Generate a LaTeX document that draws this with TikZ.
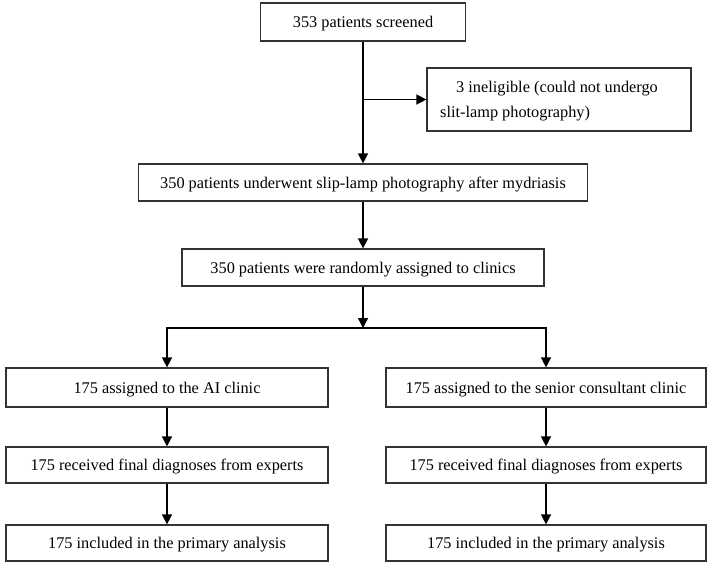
\documentclass[tikz,border=0pt]{standalone}
\usepackage{fontspec}
\setmainfont{Liberation Serif}
\usepackage{tikz}
\usetikzlibrary{positioning,arrows.meta}

\begin{document}
\begin{tikzpicture}[x=1pt,y=-1pt,
  box/.style={draw=black!80,line width=1.2pt,inner sep=0pt,text depth=0pt,font=\fontsize{16.3}{25}\selectfont},
  arr/.style={draw=black,line width=1.4pt,-{Triangle[length=10pt,width=10pt]}}]
\useasboundingbox (0,0) rectangle (708,563);
\node[box,minimum width=205,minimum height=38] (screened) at (363,22) {353 patients screened};
\node[box,minimum width=264,minimum height=63,align=left] (inelig) at (559,99.5)
{\hspace*{16pt}3 ineligible (could not undergo\hspace*{20pt}\\slit-lamp photography)};
\node[box,minimum width=449,minimum height=37] (photo) at (363,182.5)
{350 patients underwent slip-lamp photography after mydriasis};
\node[box,minimum width=362,minimum height=37] (random) at (363,267.5)
{350 patients were randomly assigned to clinics};
\node[box,minimum width=322,minimum height=39] (aiclinic) at (167,387.5)
{175 assigned to the AI clinic};
\node[box,minimum width=320,minimum height=39] (senior) at (546,387.5)
{175 assigned to the senior consultant clinic};
\node[box,minimum width=322,minimum height=36] (aidiag) at (167,465)
{175 received final diagnoses from experts};
\node[box,minimum width=320,minimum height=36] (srdiag) at (546,465)
{175 received final diagnoses from experts};
\node[box,minimum width=322,minimum height=36] (aianal) at (167,543)
{175 included in the primary analysis};
\node[box,minimum width=320,minimum height=36] (sranal) at (546,543)
{175 included in the primary analysis};
\coordinate (fork) at (363,328);
\draw[arr] (screened) -- (photo);
\draw[arr] (screened.south |- inelig.west) -- (inelig.west);
\draw[arr] (photo) -- (random);
\draw[arr] (random) -- (fork);
\draw[arr] (fork) -| (aiclinic);
\draw[arr] (fork) -| (senior);
\draw[arr] (aiclinic) -- (aidiag);
\draw[arr] (aidiag) -- (aianal);
\draw[arr] (senior) -- (srdiag);
\draw[arr] (srdiag) -- (sranal);
\end{tikzpicture}
\end{document}
